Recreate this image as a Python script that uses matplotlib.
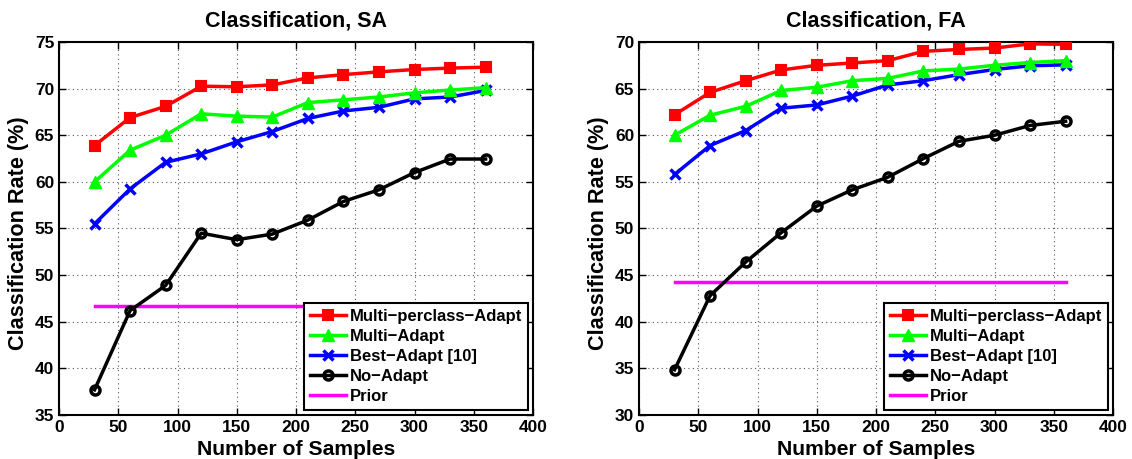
import matplotlib
matplotlib.use("Agg")
from matplotlib import pyplot as plt

plt.rcParams["font.family"] = ["Liberation Sans", "DejaVu Sans"]
plt.rcParams["font.weight"] = "bold"

samples = [30, 60, 90, 120, 150, 180, 210, 240, 270, 300, 330, 360]

# Classification, SA
sa_multi_perclass = [63.9, 66.9, 68.1, 70.26, 70.2, 70.4, 71.15, 71.5, 71.8, 72.05, 72.2, 72.3]
sa_multi = [60.0, 63.4, 65.0, 67.3, 67.05, 66.95, 68.5, 68.8, 69.1, 69.55, 69.85, 70.1]
sa_best = [55.5, 59.25, 62.1, 63.0, 64.3, 65.4, 66.8, 67.6, 68.0, 68.9, 69.1, 69.8]
sa_no_adapt = [37.7, 46.2, 48.9, 54.5, 53.8, 54.4, 55.9, 57.9, 59.15, 61.0, 62.45, 62.45]
sa_prior = 46.7

# Classification, FA
fa_multi_perclass = [62.2, 64.6, 65.85, 67.0, 67.5, 67.75, 68.0, 69.0, 69.2, 69.35, 69.8, 69.75]
fa_multi = [60.0, 62.15, 63.1, 64.8, 65.15, 65.85, 66.1, 66.9, 67.1, 67.5, 67.8, 68.0]
fa_best = [55.8, 58.9, 60.5, 62.9, 63.25, 64.2, 65.4, 65.85, 66.5, 67.05, 67.45, 67.55]
fa_no_adapt = [34.85, 42.8, 46.4, 49.55, 52.4, 54.15, 55.5, 57.5, 59.35, 60.0, 61.05, 61.5]
fa_prior = 44.3

labels = ["Multi\u2212perclass\u2212Adapt", "Multi\u2212Adapt", "Best\u2212Adapt [10]", "No\u2212Adapt", "Prior"]


def draw(ax, title, series, prior, ylim):
    red, green, blue, black = series
    lw = 2.5
    ax.plot(samples, red, color="#ff0000", lw=lw, marker="s", ms=6.5, mec="#ff0000",
            mfc="#ff0000", mew=1.5, label=labels[0], zorder=5)
    ax.plot(samples, green, color="#00ff00", lw=lw, marker="^", ms=9, mec="#00ff00",
            mfc="#00ff00", label=labels[1], zorder=4)
    ax.plot(samples, blue, color="#0000ff", lw=lw, marker="x", ms=7, mew=2.5,
            label=labels[2], zorder=3)
    ax.plot(samples, black, color="black", lw=lw, marker="o", ms=6.5, mfc="none",
            mew=2.5, label=labels[3], zorder=3)
    ax.plot([samples[0], samples[-1]], [prior, prior], color="#ff00ff", lw=lw,
            label=labels[4], zorder=2)

    ax.set_xlim(0, 400)
    ax.set_ylim(*ylim)
    ax.set_xticks(range(0, 401, 50))
    ax.set_yticks(range(ylim[0], ylim[1] + 1, 5))
    ax.grid(True, linestyle=(0, (1, 3)), color="#555555", lw=0.8)
    ax.tick_params(direction="in", top=True, right=True, labelsize=12.5, length=5, width=1)
    for s in ax.spines.values():
        s.set_linewidth(1.5)
    ax.set_title(title, fontsize=15.5, fontweight="bold", pad=11)
    ax.set_xlabel("Number of Samples", fontsize=15.2, fontweight="bold", labelpad=4)
    ax.set_ylabel("Classification Rate (%)", fontsize=15.6, fontweight="bold")
    ax.yaxis.set_label_coords(-0.064, 0.487)
    leg = ax.legend(loc="lower right", fontsize=12, frameon=True, fancybox=False,
                    borderpad=0.35, labelspacing=0.3, handlelength=2.2,
                    handletextpad=0.2, borderaxespad=0.3)
    leg.get_frame().set_edgecolor("black")
    leg.get_frame().set_linewidth(1.5)
    leg.get_frame().set_alpha(1)


fig = plt.figure(figsize=(11.32, 4.59), dpi=100)
ax1 = fig.add_axes([59 / 1132, 44 / 459, 474 / 1132, 373 / 459])
ax2 = fig.add_axes([639 / 1132, 44 / 459, 474 / 1132, 373 / 459])

draw(ax1, "Classification, SA", [sa_multi_perclass, sa_multi, sa_best, sa_no_adapt], sa_prior, (35, 75))
draw(ax2, "Classification, FA", [fa_multi_perclass, fa_multi, fa_best, fa_no_adapt], fa_prior, (30, 70))

fig.savefig("out.png", dpi=100)
